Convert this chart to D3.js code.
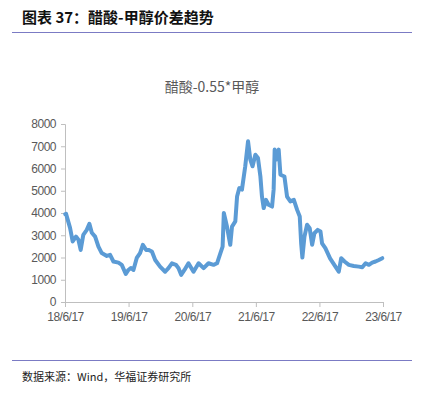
<!DOCTYPE html>
<html><head><meta charset="utf-8">
<script src="https://cdn.jsdelivr.net/npm/d3@7"></script>
<style>body{margin:0;background:#fff;}svg{display:block;font-family:"Liberation Sans",Arial,sans-serif;}</style>
</head><body>
<svg id="c" width="422" height="393"></svg>
<script>
const dates = ["2018-06-18","2018-06-23","2018-07-16","2018-07-31","2018-08-19","2018-09-02","2018-09-15","2018-09-30","2018-10-20","2018-11-04","2018-11-18","2018-12-07","2018-12-26","2019-01-14","2019-02-12","2019-03-03","2019-03-22","2019-04-20","2019-05-09","2019-06-01","2019-06-16","2019-06-30","2019-07-15","2019-08-03","2019-08-22","2019-09-07","2019-09-26","2019-10-09","2019-10-29","2019-11-17","2019-12-15","2020-01-13","2020-02-01","2020-02-21","2020-03-15","2020-03-30","2020-04-14","2020-05-03","2020-05-26","2020-06-24","2020-07-23","2020-08-21","2020-09-18","2020-10-17","2020-11-06","2020-11-25","2020-12-08","2020-12-15","2021-01-02","2021-01-21","2021-01-31","2021-02-19","2021-03-01","2021-03-14","2021-03-29","2021-04-17","2021-05-03","2021-05-16","2021-05-29","2021-06-14","2021-06-29","2021-07-13","2021-07-22","2021-08-01","2021-08-14","2021-08-29","2021-09-18","2021-09-27","2021-10-03","2021-10-13","2021-10-26","2021-11-05","2021-11-28","2021-12-13","2022-01-01","2022-01-21","2022-02-09","2022-02-24","2022-03-04","2022-03-11","2022-03-23","2022-04-07","2022-04-22","2022-05-06","2022-05-19","2022-06-07","2022-06-23","2022-07-02","2022-07-21","2022-08-17","2022-09-17","2022-10-06","2022-10-20","2022-11-08","2022-12-03","2022-12-31","2023-01-29","2023-02-18","2023-03-09","2023-03-28","2023-04-16","2023-05-05","2023-05-24","2023-06-13"];
const values = [3950,3960,3330,2720,2940,2800,2340,3020,3240,3510,3110,2940,2490,2200,2070,2120,1820,1770,1670,1260,1440,1530,1440,1980,2200,2570,2340,2340,2270,1890,1590,1360,1520,1740,1670,1520,1220,1440,1740,1360,1740,1520,1740,1670,1740,2190,2490,4000,3390,2570,3390,3620,4740,5120,5050,6100,7220,6400,6100,6620,6470,5640,4740,4220,4590,4370,4290,5050,6850,6400,6850,5720,5640,4740,4520,4590,4140,3840,2640,2000,2940,3470,3320,2570,3090,3240,3170,2640,2420,1960,1590,1360,1970,1820,1670,1620,1590,1560,1740,1670,1770,1820,1890,1970];
const xTicks = ["2018-06-17","2019-06-17","2020-06-17","2021-06-17","2022-06-17","2023-06-17"];
const xTickLabels = ["18/6/17","19/6/17","20/6/17","21/6/17","22/6/17","23/6/17"];
const yTicks = [0,1000,2000,3000,4000,5000,6000,7000,8000];

const parse = d3.timeParse("%Y-%m-%d");
const svg = d3.select("#c");
const x = d3.scaleTime().domain([parse(xTicks[0]), parse(xTicks[5])]).range([65, 383]);
const y = d3.scaleLinear().domain([0, 8000]).range([302, 124]);

// header
svg.append("text").attr("x", 22).attr("y", 23).attr("font-family","'Noto Sans CJK SC'").attr("font-weight","bold").attr("font-size",15).attr("fill","#111").text("图表 37：醋酸-甲醇价差趋势");
svg.append("line").attr("x1",12).attr("x2",412).attr("y1",32.5).attr("y2",32.5).attr("stroke","#7b7bc4").attr("stroke-width",1.2);
svg.append("line").attr("x1",12).attr("x2",412).attr("y1",360.5).attr("y2",360.5).attr("stroke","#7b7bc4").attr("stroke-width",1.2);
svg.append("text").attr("x",22).attr("y",381).attr("font-family","'Noto Sans CJK SC'").attr("font-size",11).attr("fill","#222").text("数据来源：Wind，华福证券研究所");

// chart title
svg.append("text").attr("x",212).attr("y",92).attr("text-anchor","middle").attr("font-family","'Noto Sans CJK SC'").attr("font-size",14).attr("fill","#595959").text("醋酸-0.55*甲醇");

// y axis
const ya = svg.append("g").attr("transform","translate(65,0)").call(d3.axisLeft(y).tickValues(yTicks).tickSize(4).tickPadding(5).tickFormat(d3.format("d")));
ya.select(".domain").attr("stroke","#bfbfbf");
ya.selectAll(".tick line").attr("stroke","#bfbfbf");
ya.selectAll("text").attr("font-size",12).attr("fill","#595959").attr("font-family","'Liberation Sans'").attr("letter-spacing","-0.5");

// x axis
const xa = svg.append("g").attr("transform","translate(0,302)").call(d3.axisBottom(x).tickValues(xTicks.map(parse)).tickSize(5).tickPadding(5).tickFormat((d,i)=>xTickLabels[i]));
xa.select(".domain").attr("stroke","#bfbfbf");
xa.selectAll(".tick line").attr("stroke","#bfbfbf");
xa.selectAll("text").attr("font-size",12).attr("fill","#595959").attr("font-family","'Liberation Sans'").attr("letter-spacing","-0.5");

// line
const data = dates.map((d,i)=>({d:parse(d), v:values[i]}));
svg.append("path").datum(data).attr("fill","none").attr("stroke","#5b9bd5").attr("stroke-width",4).attr("stroke-linejoin","round").attr("stroke-linecap","round")
  .attr("d", d3.line().x(p=>x(p.d)).y(p=>y(p.v)));
</script>
</body></html>
